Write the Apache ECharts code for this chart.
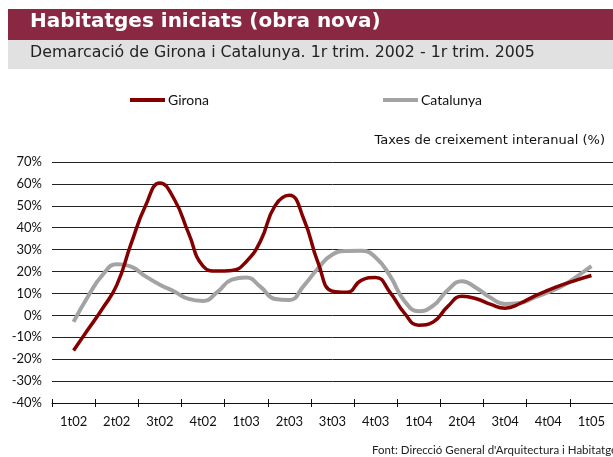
<!DOCTYPE html>
<html>
<head>
<meta charset="utf-8">
<script src="https://cdn.jsdelivr.net/npm/echarts@6/dist/echarts.min.js"></script>
<style>
  html, body { margin: 0; padding: 0; background: #fff; }
  #chart { width: 613px; height: 457px; }
</style>
</head>
<body>
<div id="chart"></div>
<script>
// categories (quarters) shown on the axis
const quarters = ['1t02', '2t02', '3t02', '4t02', '1t03', '2t03', '3t03', '4t03', '1t04', '2t04', '3t04', '4t04', '1t05'];

// monthly values, 1r trim. 2002 -> 1r trim. 2005 (3 per quarter)
const girona = [
  -16, -6.5, 3, 13.8, 32.7, 50, 60.4, 53, 37.4, 22.5, 20.2, 20.5,
  24.5, 34, 50, 54.8, 44, 24, 11, 10.5, 16, 17.3, 10.5, 1,
  -4.5, -3, 4, 8.7, 7.6, 5, 3.3, 5.3, 8.7, 11.5, 14, 16.2, 18.2
];
const catalunya = [
  -3, 8.6, 18.3, 23.3, 22.2, 17.8, 14, 10.9, 7.5, 6.6, 10.7, 16.3,
  17.3, 13, 7.5, 7, 13.5, 21.5, 27.8, 29.4, 29.5, 26.4, 18, 6.6,
  1.9, 4.4, 11.5, 15.6, 12.5, 8, 5.2, 5.6, 8, 10.6, 13.5, 17.8, 22.5
];

const yMin = -40;
const yMax = 70;
const yStep = 10;

const FONT = 'Lato';
const WIDE = 'DejaVu Sans';

const chart = echarts.init(document.getElementById('chart'));

// month index -> position in quarter units
function toPoints(arr) {
  return arr.map(function (v, i) { return [i / 3, v]; });
}

chart.setOption({
  animation: false,
  backgroundColor: '#fff',
  textStyle: { fontFamily: FONT },
  graphic: [
    { type: 'rect', shape: { x: 8, y: 9, width: 605, height: 31 }, style: { fill: '#8A2843' } },
    { type: 'rect', shape: { x: 8, y: 40, width: 605, height: 29 }, style: { fill: '#E1E1E1' } },
    {
      type: 'text', left: 30, top: 12,
      style: { text: 'Habitatges iniciats (obra nova)', fill: '#fff', font: 'bold 20px "' + WIDE + '"' }
    },
    {
      type: 'text', left: 30, top: 45,
      style: { text: 'Demarcació de Girona i Catalunya. 1r trim. 2002 - 1r trim. 2005', fill: '#222', font: '15.8px "' + WIDE + '"' }
    },
    {
      type: 'text', right: 8, top: 134,
      style: { text: 'Taxes de creixement interanual (%)', fill: '#111', font: '13px "' + WIDE + '"' }
    },
    {
      type: 'text', left: 372, top: 444,
      style: { text: "Font: Direcció General d'Arquitectura i Habitatge", fill: '#222', font: '11.5px ' + FONT }
    }
  ],
  legend: [
    {
      data: ['Girona'], left: 130, top: 93, padding: 0,
      icon: 'rect', itemWidth: 35, itemHeight: 4, itemGap: 4,
      textStyle: { fontFamily: FONT, fontSize: 14, color: '#111', padding: [0, 0, 0, -2] }
    },
    {
      data: ['Catalunya'], left: 383, top: 93, padding: 0,
      icon: 'rect', itemWidth: 35, itemHeight: 4, itemGap: 4,
      textStyle: { fontFamily: FONT, fontSize: 14, color: '#111', padding: [0, 0, 0, -2] }
    }
  ],
  grid: { left: 52, right: 0, top: 162, bottom: 54, containLabel: false },
  xAxis: [
    {
      // data axis (quarter units)
      type: 'value', min: -0.5, max: 12.5, show: false
    },
    {
      // labels at the bottom
      type: 'category', data: quarters, boundaryGap: true, position: 'bottom',
      axisLine: { show: false, onZero: false },
      axisTick: { show: false },
      splitLine: { show: false },
      axisLabel: { color: '#111', fontSize: 13, fontFamily: FONT, margin: 12 }
    },
    {
      // zero line with ticks (outside)
      type: 'category', data: quarters, boundaryGap: true, position: 'bottom',
      axisLine: { show: true, onZero: true, lineStyle: { color: '#111', width: 1 } },
      axisTick: { show: true, length: 4, lineStyle: { color: '#111' } },
      axisLabel: { show: false },
      splitLine: { show: false }
    },
    {
      // ticks inside
      type: 'category', data: quarters, boundaryGap: true, position: 'bottom',
      axisLine: { show: false, onZero: true },
      axisTick: { show: true, inside: true, length: 4, lineStyle: { color: '#111' } },
      axisLabel: { show: false },
      splitLine: { show: false }
    }
  ],
  yAxis: {
    type: 'value', min: yMin, max: yMax, interval: yStep,
    axisLine: { show: false },
    axisTick: { show: false },
    axisLabel: { color: '#111', fontSize: 13, fontFamily: FONT, margin: 10, formatter: '{value}%' },
    splitLine: { lineStyle: { color: '#222', width: 1 } }
  },
  series: [
    {
      name: 'Girona', type: 'line', xAxisIndex: 0, data: toPoints(girona),
      smooth: 0.5, symbol: 'none',
      lineStyle: { color: '#840000', width: 3.5 }, itemStyle: { color: '#840000' },
      z: 3
    },
    {
      name: 'Catalunya', type: 'line', xAxisIndex: 0, data: toPoints(catalunya),
      smooth: 0.5, symbol: 'none',
      lineStyle: { color: '#A3A3A3', width: 4 }, itemStyle: { color: '#A3A3A3' },
      z: 2
    }
  ]
});
</script>
</body>
</html>
